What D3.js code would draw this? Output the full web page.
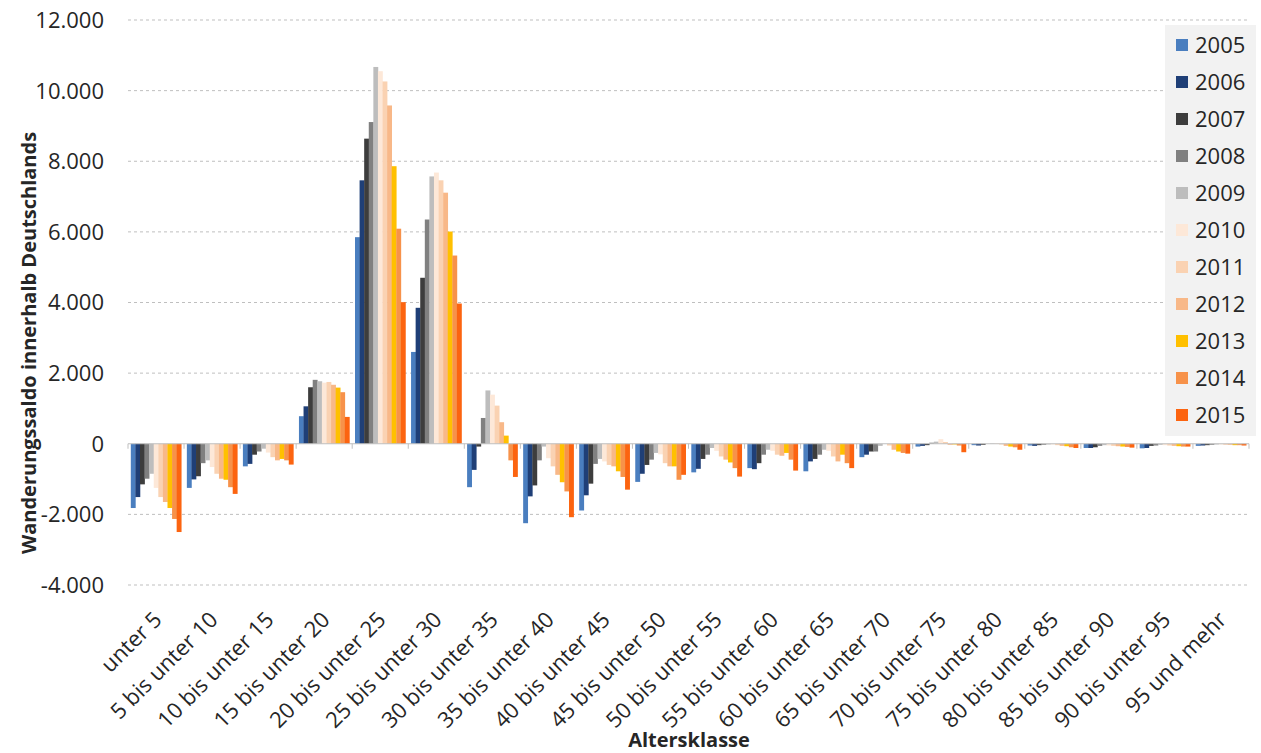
<!DOCTYPE html>
<html>
<head>
<meta charset="utf-8">
<script src="https://cdn.jsdelivr.net/npm/d3@7"></script>
<style>
  html, body { margin: 0; padding: 0; background: #ffffff; }
  svg { display: block; font-family: "Open Sans", "Noto Sans", sans-serif; }
</style>
</head>
<body>
<svg id="chart" width="1261" height="753"></svg>
<script>
const categories = ["unter 5", "5 bis unter 10", "10 bis unter 15", "15 bis unter 20", "20 bis unter 25",
  "25 bis unter 30", "30 bis unter 35", "35 bis unter 40", "40 bis unter 45", "45 bis unter 50",
  "50 bis unter 55", "55 bis unter 60", "60 bis unter 65", "65 bis unter 70", "70 bis unter 75",
  "75 bis unter 80", "80 bis unter 85", "85 bis unter 90", "90 bis unter 95", "95 und mehr"];
const years = ["2005", "2006", "2007", "2008", "2009", "2010", "2011", "2012", "2013", "2014", "2015"];
const v2005 = [-1820, -1250, -640, 780, 5850, 2600, -1230, -2250, -1890, -1080, -810, -690, -780, -380, -80, -40, -50, -120, -130, -60];
const v2006 = [-1510, -1010, -570, 1060, 7460, 3850, -740, -1490, -1460, -850, -710, -720, -500, -310, -60, -50, -60, -120, -120, -50];
const v2007 = [-1150, -920, -310, 1600, 8640, 4700, -80, -1180, -1130, -600, -430, -550, -430, -220, -40, -30, -40, -100, -60, -40];
const v2008 = [-990, -550, -220, 1810, 9110, 6350, 730, -470, -570, -450, -310, -310, -310, -220, 30, 0, -30, -60, -50, -30];
const v2009 = [-850, -470, -140, 1770, 10670, 7570, 1510, -80, -430, -260, -120, -170, -170, -60, 60, 10, -20, -40, -30, -20];
const v2010 = [-1250, -660, -250, 1730, 10550, 7680, 1390, -410, -500, -300, -200, -200, -200, 0, 130, 20, -20, -50, -40, -20];
const v2011 = [-1510, -850, -380, 1750, 10260, 7460, 1080, -640, -600, -550, -360, -310, -360, -50, 50, -20, -40, -60, -50, -30];
const v2012 = [-1650, -990, -470, 1670, 9580, 7110, 610, -880, -640, -640, -450, -340, -500, -170, -30, -60, -60, -70, -60, -30];
const v2013 = [-1820, -1020, -430, 1590, 7860, 6010, 230, -1090, -780, -640, -530, -260, -310, -220, -20, -80, -70, -80, -70, -40];
const v2014 = [-2130, -1230, -470, 1460, 6090, 5330, -470, -1350, -940, -1020, -690, -450, -550, -260, -50, -100, -100, -90, -80, -40];
const v2015 = [-2500, -1420, -590, 760, 4010, 3970, -940, -2080, -1300, -880, -930, -760, -690, -280, -240, -170, -120, -110, -80, -50];
const seriesValues = [v2005, v2006, v2007, v2008, v2009, v2010, v2011, v2012, v2013, v2014, v2015];
const yTicks = [-4000, -2000, 0, 2000, 4000, 6000, 8000, 10000, 12000];
const colors = ["#4a7ebf", "#1f3f77", "#3d3d3d", "#808080", "#bdbdbd", "#fde8d8", "#fad2b2", "#f8b888", "#ffc000", "#f7924a", "#fc6410"];

const svg = d3.select("#chart");
const pLeft = 128, pRight = 1249, pTop = 20, pBottom = 585;

const x = d3.scaleBand().domain(categories).range([pLeft, pRight]).paddingInner(0.1).paddingOuter(0.05);
const xs = d3.scaleBand().domain(years).range([0, x.bandwidth()]);
const y = d3.scaleLinear().domain([-4000, 12000]).range([pBottom, pTop]);
const fmt = v => d3.format(",")(v).replace(/,/g, ".").replace("\u2212", "-");

// gridlines
svg.append("g").selectAll("line").data(yTicks.filter(t => t !== 0)).join("line")
  .attr("x1", pLeft).attr("x2", pRight)
  .attr("y1", d => y(d)).attr("y2", d => y(d))
  .attr("stroke", "#bfbfbf").attr("stroke-width", 1).attr("stroke-dasharray", "3,3");

// y tick labels
svg.append("g").selectAll("text").data(yTicks).join("text")
  .attr("x", 104).attr("y", d => y(d)).attr("dy", "0.36em")
  .attr("text-anchor", "end").attr("font-size", 22).attr("fill", "#262626")
  .text(d => fmt(d));

// bars
const groups = svg.append("g").selectAll("g").data(categories).join("g")
  .attr("transform", d => `translate(${x(d)},0)`);
groups.selectAll("rect").data((c, ci) => years.map((yr, si) => ({ yr, si, v: seriesValues[si][ci] }))).join("rect")
  .attr("x", d => xs(d.yr)).attr("width", xs.bandwidth() + 0.3)
  .attr("y", d => y(Math.max(0, d.v)))
  .attr("height", d => Math.abs(y(d.v) - y(0)))
  .attr("fill", d => colors[d.si]);

// zero axis line and ticks
svg.append("line").attr("x1", pLeft).attr("x2", pRight).attr("y1", y(0)).attr("y2", y(0))
  .attr("stroke", "#bfbfbf").attr("stroke-width", 1);
const step = x.step();
const x0 = x(categories[0]) - x.paddingOuter() * step;
svg.append("g").selectAll("line").data(d3.range(categories.length + 1)).join("line")
  .attr("x1", i => x0 + i * step).attr("x2", i => x0 + i * step)
  .attr("y1", y(0)).attr("y2", y(0) + 5)
  .attr("stroke", "#bfbfbf");

// x labels
svg.append("g").selectAll("text").data(categories).join("text")
  .attr("transform", d => `translate(${x(d) + x.bandwidth() / 2 + 7},${pBottom + 36}) rotate(-45)`)
  .attr("text-anchor", "end").attr("font-size", 22).attr("fill", "#262626")
  .text(d => d);

// axis titles
svg.append("text").attr("x", 689).attr("y", 747).attr("text-anchor", "middle")
  .attr("font-size", 20).attr("font-weight", "bold").attr("fill", "#262626").text("Altersklasse");
svg.append("text").attr("transform", `translate(36,343) rotate(-90)`).attr("text-anchor", "middle")
  .attr("font-size", 20).attr("font-weight", "bold").attr("fill", "#262626")
  .text("Wanderungssaldo innerhalb Deutschlands");

// legend
const lg = svg.append("g");
lg.append("rect").attr("x", 1165).attr("y", 25).attr("width", 91).attr("height", 411).attr("fill", "#f2f2f2");
const li = lg.selectAll("g").data(years).join("g")
  .attr("transform", (d, i) => `translate(1176,${45 + i * 37})`);
li.append("rect").attr("x", 0).attr("y", -6).attr("width", 12).attr("height", 12).attr("fill", (d, i) => colors[i]);
li.append("text").attr("x", 19).attr("y", 0).attr("dy", "0.36em").attr("font-size", 22).attr("fill", "#262626").text(d => d);
</script>
</body>
</html>
